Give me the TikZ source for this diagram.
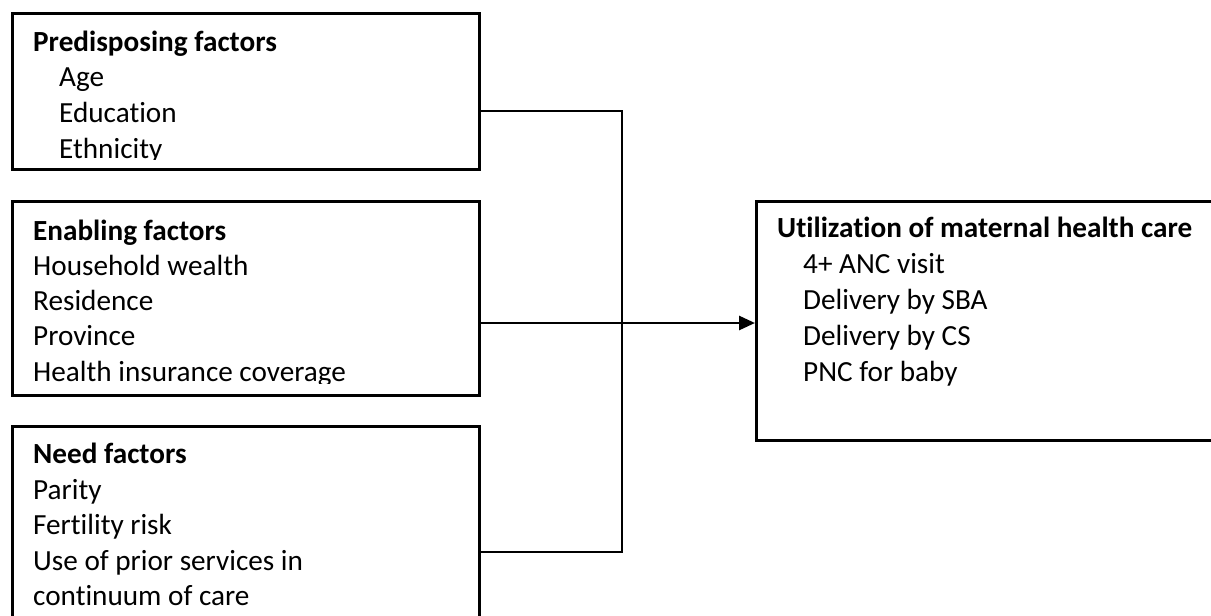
\documentclass[tikz,border=0pt]{standalone}
\usepackage{fontspec}
\setmainfont{Carlito}[Ligatures=NoCommon]
\usetikzlibrary{arrows.meta}
\tikzset{
  box/.style={draw, line width=2.8pt, anchor=north west, inner sep=0pt},
  link/.style={line width=2.8pt},
  txt/.style={anchor=base west, inner sep=0pt, font=\fontsize{29.2}{36}\selectfont},
}
\begin{document}
\begin{tikzpicture}[x=1pt,y=-1pt]
\useasboundingbox (0,0) rectangle (1211,616);
% boxes
\node[box, minimum width=467pt, minimum height=156pt] (pred) at (11,12) {};
\node[box, minimum width=467pt, minimum height=194pt] (enab) at (11,200) {};
\node[box, minimum width=467pt, minimum height=225pt] (need) at (11,425) {};
\node[box, minimum width=475pt, minimum height=239pt] (util) at (755,200) {};
% predisposing
\begin{scope}
\clip (11,12) rectangle (478,159.5);
\node[txt] (predT) at (33,51) {\textbf{Predisposing factors}};
\node[txt] (age) at (59,86.5) {Age};
\node[txt] (edu) at (59,122) {Education};
\node[txt] (eth) at (59,158) {Ethnicity};
\end{scope}
% enabling
\begin{scope}
\clip (11,200) rectangle (478,383.5);
\node[txt] (enabT) at (33,240) {\textbf{Enabling factors}};
\node[txt] (wealth) at (33,275) {Household wealth};
\node[txt] (res) at (33,310) {Residence};
\node[txt] (prov) at (33,345.5) {Province};
\node[txt] (ins) at (33,381) {Health insurance coverage};
\end{scope}
% need
\node[txt] (needT) at (33,463) {\textbf{Need factors}};
\node[txt] (parity) at (33,499) {Parity};
\node[txt] (risk) at (33,534.5) {Fertility risk};
\node[txt] (prior) at (33,570) {Use of prior services in};
\node[txt] (cont) at (33,605.5) {continuum of care};
% utilization
\node[txt] (utilT) at (777,237) {\textbf{Utilization of maternal health care}};
\node[txt] (anc) at (803,273) {4+ ANC visit};
\node[txt] (sba) at (803,309) {Delivery by SBA};
\node[txt] (cs) at (803,345) {Delivery by CS};
\node[txt] (pnc) at (803,381) {PNC for baby};
% connectors
\coordinate (jTop) at (622,111);
\coordinate (jBot) at (622,552);
\coordinate (jMid) at (622,323);
\draw[link] (pred.east |- jTop) -- (jTop) -- (jBot) -- (need.east |- jBot);
\draw[link, -{Triangle[length=16pt,width=14pt]}] (enab.east |- jMid) -- (util.west |- jMid);
\end{tikzpicture}
\end{document}
